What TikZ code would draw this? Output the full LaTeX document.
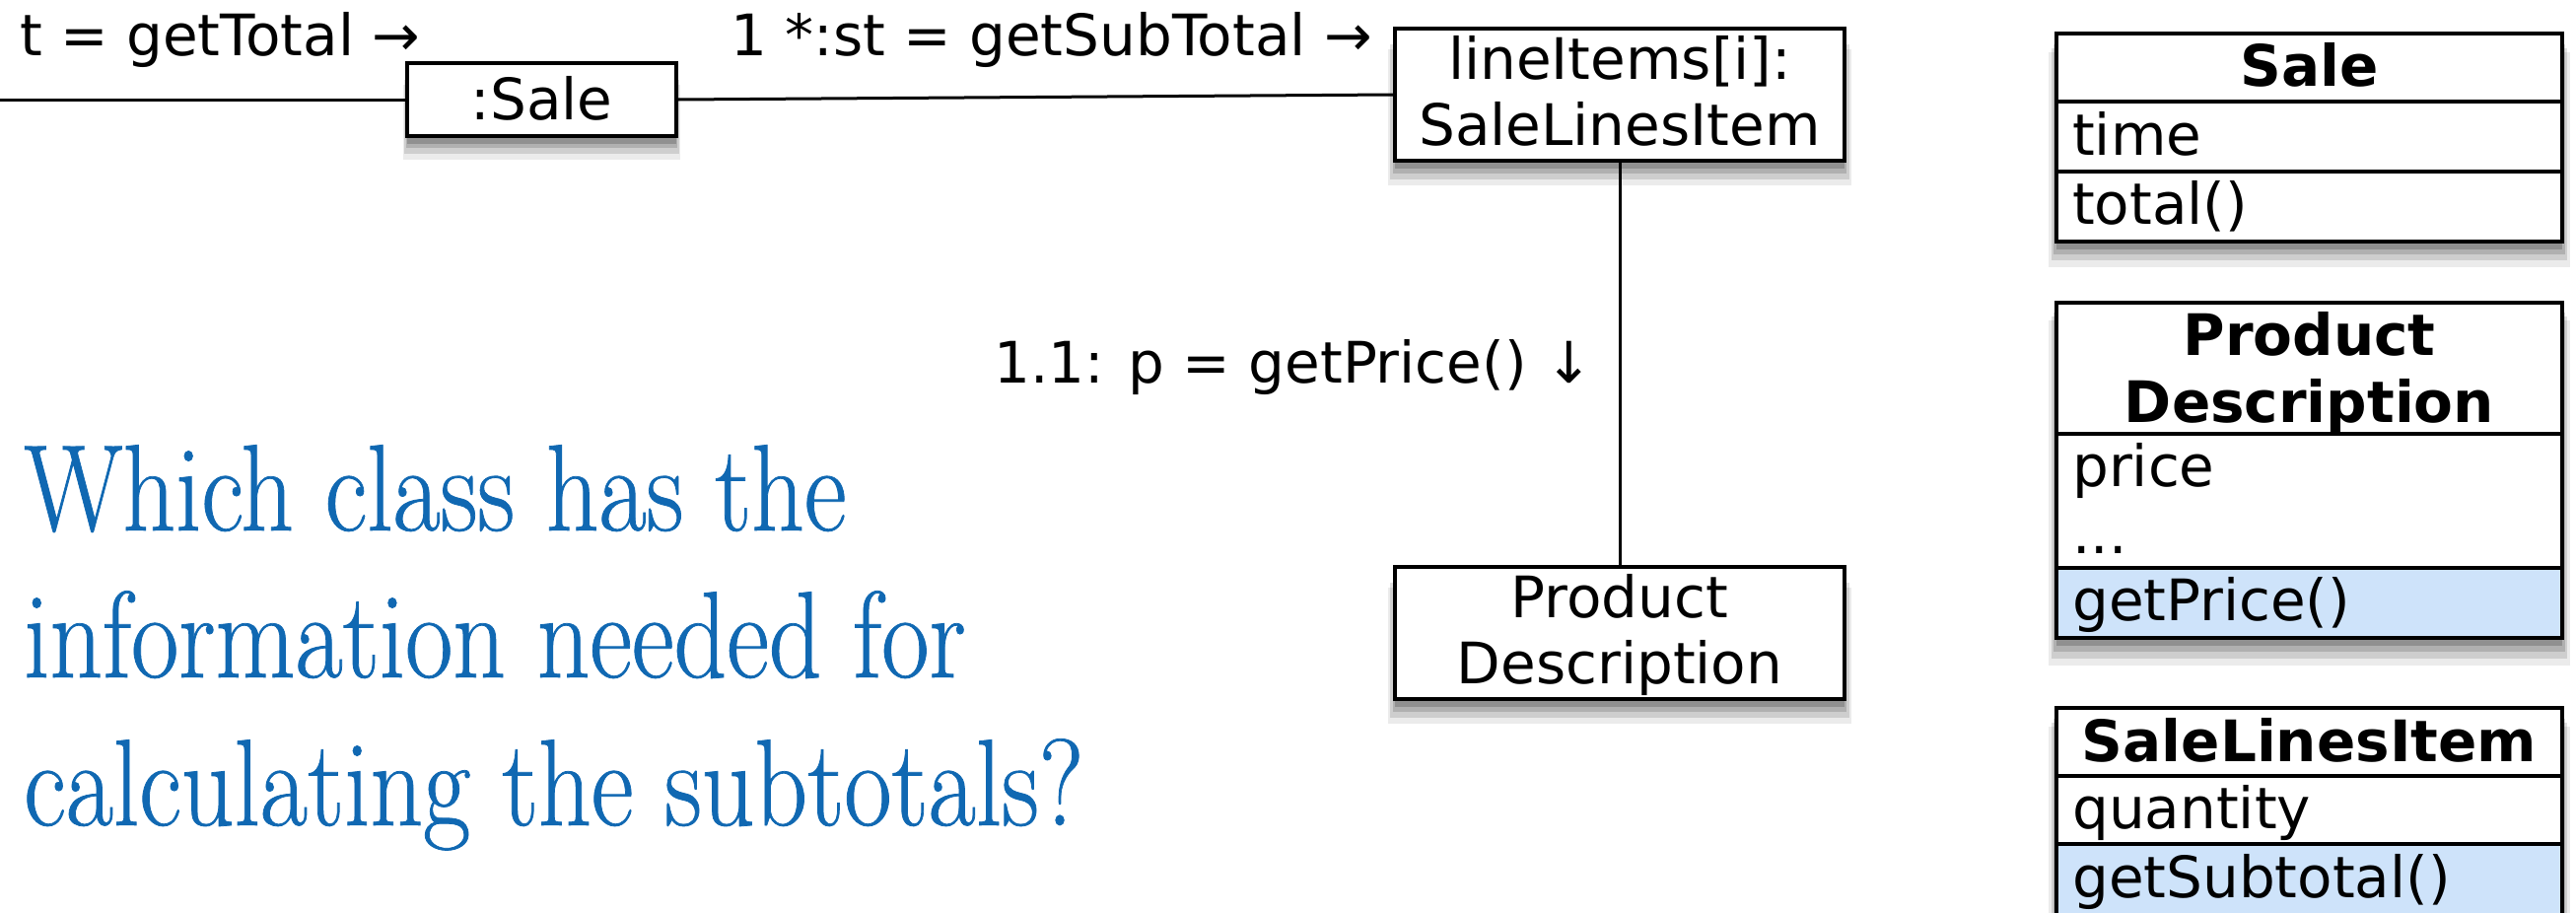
\documentclass[tikz,border=0pt]{standalone}
\usepackage{fontspec}
\setmainfont{DejaVu Sans}
\newfontfamily\qfont[FakeStretch=0.84,FakeBold=0.6]{Latin Modern Roman}
\usetikzlibrary{shadows,calc}
\definecolor{qblue}{RGB}{16,104,178}
\definecolor{opfill}{RGB}{206,227,250}
\tikzset{
  blur/.style={
    drop shadow={shadow xshift=0pt,shadow yshift=-8pt,opacity=0.18,fill=black,shadow scale=1.00},
    drop shadow={shadow xshift=0pt,shadow yshift=-12pt,opacity=0.15,fill=black,shadow scale=1.01},
    drop shadow={shadow xshift=0pt,shadow yshift=-17pt,opacity=0.12,fill=black,shadow scale=1.02},
    drop shadow={shadow xshift=0pt,shadow yshift=-22pt,opacity=0.08,fill=black,shadow scale=1.03}},
  objbox/.style={draw=black,line width=3.8pt,fill=white,inner sep=0pt,blur},
  classbg/.style={fill=white,inner sep=0pt,blur},
  row/.style={draw=black,line width=3.3pt,inner sep=0pt,minimum width=513pt},
  txt/.style={inner sep=0pt,font=\fontsize{58}{67}\selectfont},
  btxt/.style={inner sep=0pt,font=\fontsize{58}{67}\selectfont\bfseries},
  conn/.style={line width=3pt,draw=black},
  qtxt/.style={inner sep=0pt,anchor=base west,text=qblue,font=\qfont\fontsize{125}{150}\selectfont}
}
\begin{document}
\begin{tikzpicture}[x=1pt,y=-1pt]
\useasboundingbox (0,0) rectangle (2613,926);
% ---- object diagram ----
\node[objbox,minimum width=273pt,minimum height=74pt] (sale) at (549.5,101) {};
\node[txt,anchor=base] (saletxt) at (549.5,121) {:Sale};
\node[objbox,minimum width=456pt,minimum height=134pt] (li) at (1643,96) {};
\node[txt,anchor=base] (li1) at (1643,80) {lineItems[i]:};
\node[txt,anchor=base] (li2) at (1643,147) {SaleLinesItem};
\node[objbox,minimum width=456pt,minimum height=134pt] (pd) at (1643,642) {};
\node[txt,anchor=base] (pd1) at (1643,626) {Product};
\node[txt,anchor=base] (pd2) at (1643,693) {Description};
\coordinate (start) at (0,101);
\draw[conn] (start) -- (sale.west);
\draw[conn] (sale.east) -- (li.west);
\draw[conn] (li.south) -- (pd.north);
\node[txt,anchor=base west] (lab1) at (20,56) {t = getTotal →};
\node[txt,anchor=base west] (lab2) at (741,56) {1 *:st = getSubTotal →};
\node[txt,anchor=base east] (lab3) at (1616,388) {1.1: p = getPrice() ↓};
% ---- question ----
\node[qtxt] (q1) at (24,538) {Which class has the};
\node[qtxt] (q2) at (24,687) {information needed for};
\node[qtxt] (q3) at (24,837) {calculating the subtotals?};
% ---- class Sale ----
\node[classbg,minimum width=513pt,minimum height=211pt] (salebg) at (2342.5,139.5) {};
\node[row,minimum height=69pt] (saleh) at (2342.5,68.5) {};
\node[row,minimum height=71pt] (salea) at (2342.5,138.5) {};
\node[row,minimum height=71pt] (saleo) at (2342.5,209.5) {};
\node[btxt,anchor=base] at (2342.5,87) {Sale};
\node[txt,anchor=base west] at (2102,157) {time};
\node[txt,anchor=base west] at (2102,227) {total()};
% ---- class ProductDescription ----
\node[classbg,minimum width=513pt,minimum height=340pt] (pdbg) at (2342.5,477) {};
\node[row,minimum height=133pt] (pdh) at (2342.5,373.5) {};
\node[row,minimum height=136pt] (pda) at (2342.5,508) {};
\node[row,minimum height=71pt,fill=opfill] (pdo) at (2342.5,611.5) {};
\node[btxt,anchor=base] at (2342.5,360) {Product};
\node[btxt,anchor=base] at (2342.5,428) {Description};
\node[txt,anchor=base west] at (2102,493) {price};
\node[txt,anchor=base west] at (2102,561) {...};
\node[txt,anchor=base west] at (2102,629) {getPrice()};
% ---- class SaleLinesItem ----
\node[classbg,minimum width=513pt,minimum height=230pt] (slbg) at (2342.5,833) {};
\node[row,minimum height=69pt] (slh) at (2342.5,752.5) {};
\node[row,minimum height=69pt] (sla) at (2342.5,821.5) {};
\node[row,minimum height=80pt,fill=opfill] (slo) at (2342.5,896) {};
\node[btxt,anchor=base] at (2342.5,772) {SaleLinesItem};
\node[txt,anchor=base west] at (2102,840) {quantity};
\node[txt,anchor=base west] at (2102,910) {getSubtotal()};
\end{tikzpicture}
\end{document}
